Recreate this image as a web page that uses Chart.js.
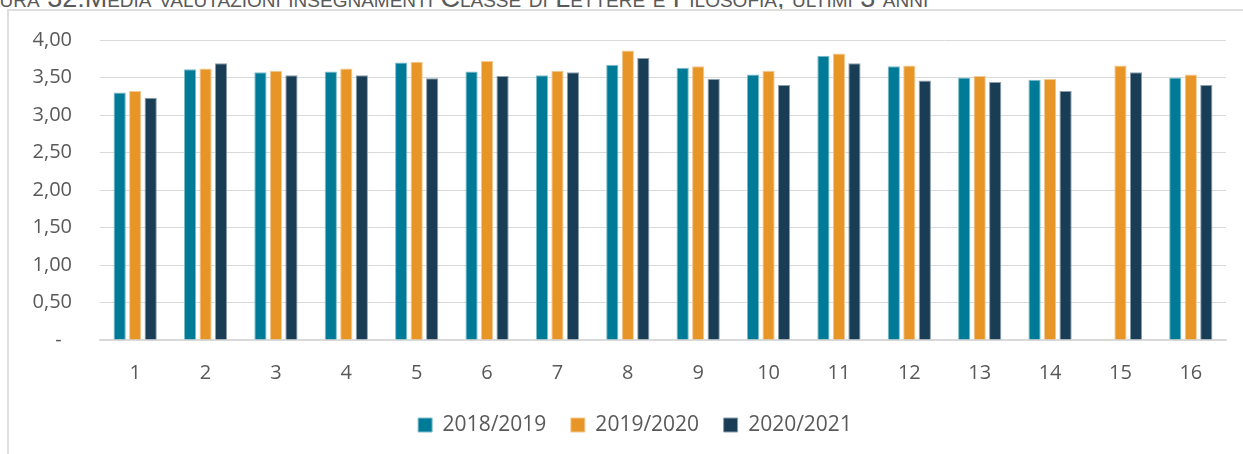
<!DOCTYPE html>
<html>
<head>
<meta charset="utf-8">
<script src="https://cdn.jsdelivr.net/npm/chart.js@4.4.1/dist/chart.umd.min.js"></script>
<style>
  html, body { margin:0; padding:0; background:#fff; overflow:hidden; }
  #wrap { position:relative; width:1243px; height:454px; }
  #title {
    position:absolute; left:-37px; top:-15px; white-space:nowrap;
    font-family:"Liberation Sans", Arial, sans-serif; font-size:27px; line-height:27px;
    font-variant:small-caps; color:#595959;
  }
  #frame { position:absolute; left:7px; top:9px; right:-10px; bottom:-10px; border:2px solid #dedede; }
  #box { position:absolute; left:0; top:0; width:1243px; height:454px; }
</style>
</head>
<body>
<div id="wrap">
  <div id="title">Figura 32:Media valutazioni insegnamenti Classe di Lettere e Filosofia, ultimi 3 anni</div>
  <div id="frame"></div>
  <div id="box"><canvas id="chart"></canvas></div>
</div>
<script>
// ========== Data ==========
const categories = ['1','2','3','4','5','6','7','8','9','10','11','12','13','14','15','16'];
const seriesNames = ['2018/2019','2019/2020','2020/2021'];
const values1819 = [3.30,3.61,3.57,3.58,3.70,3.58,3.53,3.67,3.63,3.54,3.79,3.65,3.50,3.47,null,3.50];
const values1920 = [3.32,3.62,3.59,3.62,3.71,3.72,3.59,3.86,3.65,3.59,3.82,3.66,3.52,3.48,3.66,3.54];
const values2021 = [3.23,3.69,3.53,3.53,3.49,3.52,3.57,3.76,3.48,3.40,3.69,3.46,3.44,3.32,3.57,3.40];
const yTicks = [0,0.5,1,1.5,2,2.5,3,3.5,4];

const colors = ['#007b97','#e69526','#1a3d56'];
const borders = ['#7fbdcb','#f2c992','#8c9eab'];

Chart.defaults.font.family = '"Open Sans", "Noto Sans", sans-serif';
Chart.defaults.color = '#595959';

// legend sits centred on the whole frame, not on the plot: nudge it right a bit
const legendShift = {
  id:'legendShift',
  afterLayout(chart){
    if (chart.legend) { chart.legend.left += 9; chart.legend.right += 9; }
  }
};

const ctx = document.getElementById('chart').getContext('2d');
const chart = new Chart(ctx, {
  type:'bar',
  data:{
    labels: categories,
    datasets: [values1819, values1920, values2021].map((d,i) => ({
      label: seriesNames[i], data: d,
      backgroundColor: colors[i], borderColor: borders[i], borderWidth: 1,
      categoryPercentage: 0.661, barPercentage: 0.79
    }))
  },
  options:{
    responsive:true, maintainAspectRatio:false, animation:false,
    layout:{ padding:{ left:26, right:17, top:39, bottom:8.5 } },
    plugins:{
      tooltip:{ enabled:false },
      legend:{
        position:'bottom',
        labels:{ boxWidth:14, boxHeight:14, padding:24.5, color:'#595959', font:{ size:21 } }
      }
    },
    scales:{
      x:{
        grid:{ display:false },
        border:{ display:true, color:'#d9d9d9', width:1.5 },
        ticks:{ padding:13, font:{ size:20 }, color:'#595959', maxRotation:0 },
        afterFit(scale){ scale.height = 50; }
      },
      y:{
        min:0, max:4,
        afterBuildTicks(scale){ scale.ticks = yTicks.map(v => ({ value:v })); },
        grid:{ color:'#d9d9d9', lineWidth:1, drawTicks:false },
        border:{ display:false },
        ticks:{
          padding:28, font:{ size:20 }, color:'#595959',
          callback(v){ return v === 0 ? '-  ' : v.toFixed(2).replace('.', ','); }
        },
        afterFit(scale){ scale.width = 74; }
      }
    }
  },
  plugins:[legendShift]
});
</script>
</body>
</html>
